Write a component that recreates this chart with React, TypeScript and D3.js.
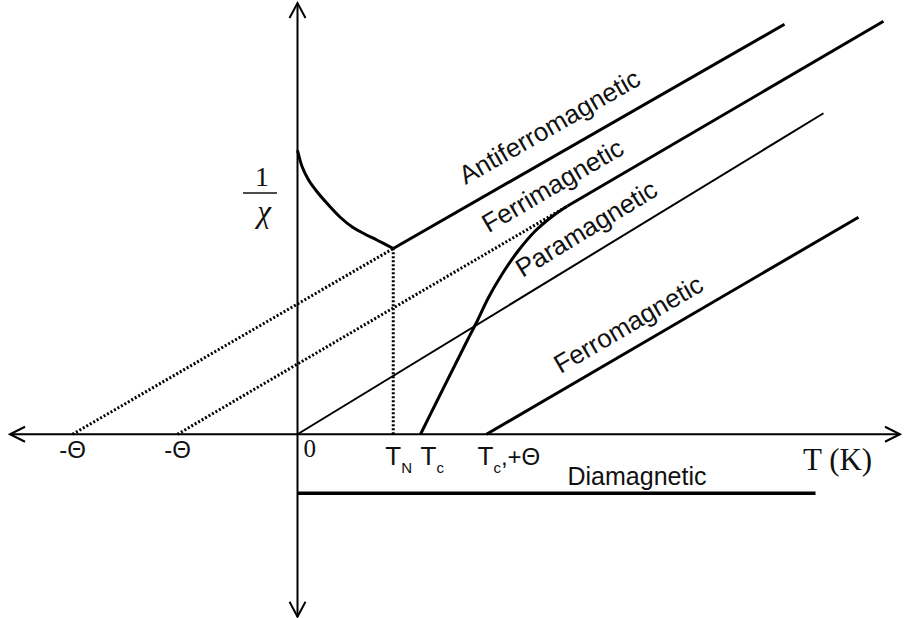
import React from "react";
import * as d3 from "d3";

// Reduced units: temperature T and inverse susceptibility 1/chi
const T_EXTENT: [number, number] = [-11.5, 24.1];
const CHI_EXTENT: [number, number] = [-7.3, 17.25];

const THETA_ANTI = -9.0;
const THETA_FERRI = -4.8;
const T_NEEL = 3.83;
const T_CURIE = 4.92;
const T_CURIE_THETA = 7.56;

const paramagnetic: [number, number][] = [[0, 0], [21.04, 12.84]];
const antiferroCurve: [number, number][] = [
  [0, 11.36], [0.19, 10.69], [0.45, 10.16], [0.79, 9.69], [1.25, 9.16],
  [1.72, 8.67], [2.19, 8.29], [2.65, 8.03], [3.19, 7.76], [3.83, 7.43],
];
const antiferroLine: [number, number][] = [[3.83, 7.43], [19.48, 16.4]];
const antiferroExtrap: [number, number][] = [[THETA_ANTI, 0], [3.83, 7.43]];
const neelDrop: [number, number][] = [[T_NEEL, 0], [T_NEEL, 7.43]];
const ferriCurve: [number, number][] = [
  [4.92, 0], [5.6, 1.37], [6.3, 2.77], [6.8, 3.77], [7.2, 4.55], [7.63, 5.45],
  [8.15, 6.35], [8.8, 7.3], [9.5, 8.12], [10.2, 8.72], [10.8, 9.13],
];
const ferriLine: [number, number][] = [[10.8, 9.13], [23.44, 16.52]];
const ferriExtrap: [number, number][] = [[THETA_FERRI, 0], [10.8, 9.13]];
const ferroLine: [number, number][] = [[7.56, 0], [22.44, 8.68]];
const diamagnetic: [number, number][] = [[0, -2.36], [20.72, -2.36]];

const phaseLabels = ["Antiferromagnetic", "Ferrimagnetic", "Paramagnetic", "Ferromagnetic", "Diamagnetic"];

const W = 904;
const H = 618;
const SANS = "'Liberation Sans', Arial, sans-serif";
const SERIF = "'Liberation Serif', 'Times New Roman', serif";
const INK = "#000";

export default function App() {
  const x = d3.scaleLinear().domain(T_EXTENT).range([10, 900]);
  const y = d3.scaleLinear().domain(CHI_EXTENT).range([616.75, 3]);
  const line = d3.line<[number, number]>().x((d) => x(d[0])).y((d) => y(d[1]));
  const smooth = d3
    .line<[number, number]>()
    .x((d) => x(d[0]))
    .y((d) => y(d[1]))
    .curve(d3.curveCatmullRom.alpha(0.5));

  const x0 = x(0);
  const y0 = y(0);
  const xl = x(T_EXTENT[0]);
  const xr = x(T_EXTENT[1]);
  const yt = y(CHI_EXTENT[1]);
  const yb = y(CHI_EXTENT[0]);

  // rotated label whose baseline starts a fixed height above a straight segment
  const lineLabel = (
    text: string,
    seg: [number, number][],
    tAt: number,
    lift: number
  ) => {
    const [a, b] = seg;
    const px1 = x(a[0]), py1 = y(a[1]), px2 = x(b[0]), py2 = y(b[1]);
    const ang = Math.atan2(py2 - py1, px2 - px1);
    const frac = (tAt - a[0]) / (b[0] - a[0]);
    const lx = px1 + (px2 - px1) * frac;
    const ly = py1 + (py2 - py1) * frac;
    const deg = (ang * 180) / Math.PI;
    return (
      <text
        key={text}
        transform={`translate(${lx},${ly - lift}) rotate(${deg})`}
        fontFamily={SANS}
        fontSize={26}
        fill="#111"
      >
        {text}
      </text>
    );
  };

  const dotted = { stroke: INK, strokeWidth: 3, strokeDasharray: "2 2", fill: "none" };
  const ferriAsymptote: [number, number][] = [ferriExtrap[0], ferriLine[1]];

  return (
    <svg
      width={W}
      height={H}
      style={{ position: "absolute", left: 0, top: 0, background: "#fff" }}
    >
      <rect width={W} height={H} fill="#fff" />

      {/* axes with open arrowheads at both ends */}
      <g stroke={INK} strokeWidth={2} fill="none">
        <line x1={xl} y1={y0} x2={xr} y2={y0} />
        <line x1={x0} y1={yt} x2={x0} y2={yb} />
        <polyline points={`${xl + 15},${y0 - 7.5} ${xl},${y0} ${xl + 15},${y0 + 7.5}`} />
        <polyline points={`${xr - 15},${y0 - 7.5} ${xr},${y0} ${xr - 15},${y0 + 7.5}`} />
        <polyline points={`${x0 - 8},${yt + 15} ${x0},${yt} ${x0 + 8},${yt + 15}`} />
        <polyline points={`${x0 - 8},${yb - 15} ${x0},${yb} ${x0 + 8},${yb - 15}`} />
      </g>

      {/* extrapolations to the Weiss temperatures and the Neel drop */}
      <path d={line(antiferroExtrap)!} {...dotted} />
      <path d={line(ferriExtrap)!} {...dotted} />
      <path d={line(neelDrop)!} {...dotted} />

      {/* phases */}
      <path d={line(paramagnetic)!} stroke={INK} strokeWidth={2} fill="none" />
      <path d={smooth(antiferroCurve)!} stroke={INK} strokeWidth={3} fill="none" />
      <path d={line(antiferroLine)!} stroke={INK} strokeWidth={3} fill="none" />
      <path d={smooth(ferriCurve)!} stroke={INK} strokeWidth={3} fill="none" />
      <path d={line(ferriLine)!} stroke={INK} strokeWidth={3} fill="none" />
      <path d={line(ferroLine)!} stroke={INK} strokeWidth={3} fill="none" />
      <path d={line(diamagnetic)!} stroke={INK} strokeWidth={3.5} fill="none" />

      {lineLabel(phaseLabels[0], antiferroLine, 6.72, 22)}
      {lineLabel(phaseLabels[1], ferriAsymptote, 7.64, 19)}
      {lineLabel(phaseLabels[2], paramagnetic, 9.0, 19)}
      {lineLabel(phaseLabels[3], ferroLine, 10.52, 17)}
      <text x={x(10.8)} y={y(diamagnetic[0][1]) - 8} fontFamily={SANS} fontSize={25} fill="#111">
        {phaseLabels[4]}
      </text>

      {/* temperature markers */}
      <g fontFamily={SANS} fill="#111">
        <text x={x(THETA_ANTI)} y={458} fontSize={24} textAnchor="middle">-Θ</text>
        <text x={x(THETA_FERRI)} y={458} fontSize={24} textAnchor="middle">-Θ</text>
        <text x={x(T_NEEL) - 8} y={465} fontSize={26}>
          T<tspan fontSize={15} dy={8}>N</tspan>
        </text>
        <text x={x(T_CURIE)} y={465} fontSize={26}>
          T<tspan fontSize={15} dy={8}>c</tspan>
        </text>
        <text x={x(T_CURIE_THETA) - 9} y={465} fontSize={26}>
          T<tspan fontSize={15} dy={8}>c</tspan>
          <tspan fontSize={24} dy={-8}>,+Θ</tspan>
        </text>
      </g>
      <text x={x0 + 6} y={457} fontFamily={SERIF} fontSize={25} fill="#111">0</text>
      <text x={803} y={470} fontFamily={SERIF} fontSize={31} fill="#111">T (K)</text>

      {/* vertical quantity: 1/chi */}
      <g fontFamily={SERIF} fill="#111" textAnchor="middle">
        <text x={262} y={186} fontSize={28}>1</text>
        <line x1={243} x2={277} y1={193} y2={193} stroke="#111" strokeWidth={1.5} />
        <text x={264} y={222} fontSize={31} fontStyle="italic">χ</text>
      </g>
    </svg>
  );
}
